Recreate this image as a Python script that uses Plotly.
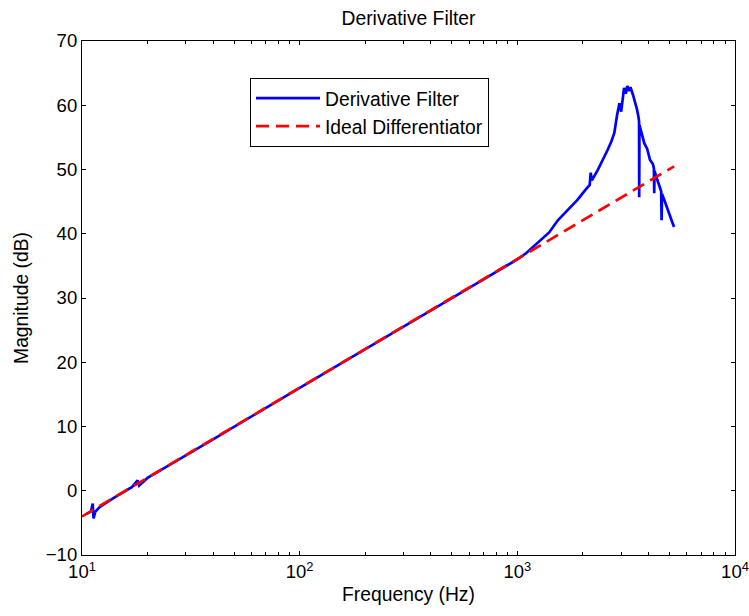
import plotly.graph_objects as go

# Derivative filter magnitude response
filter_freq = [10.5, 11.0, 11.2, 11.3, 11.5, 12, 14, 17, 18, 18.3, 20, 25, 30, 40, 50, 70, 100, 140, 200, 300,
               400, 500, 700, 900, 1000, 1100, 1242, 1400, 1535, 1700, 1893, 2050, 2150, 2173, 2200,
               2340, 2450, 2595, 2700, 2790, 2870, 2945, 3000, 3050, 3092, 3150, 3200, 3260, 3310,
               3400, 3480, 3550, 3600, 3625, 3630, 3640, 3700, 3830, 3950, 4070, 4200, 4240, 4255,
               4270, 4395, 4500, 4580, 4600, 4620, 4730, 4850, 5020, 5150, 5250]
filter_mag = [-3.6, -3.2, -2.0, -4.3, -3.3, -2.6, -1.1, 0.6, 1.6, 0.8, 2.0, 4.0, 5.5, 8.0, 10.0, 12.9, 16.0, 18.9,
              22.0, 25.5, 28.0, 30.0, 32.9, 35.1, 36.0, 37.0, 38.6, 40.2, 42.1, 43.6, 45.3, 46.8, 47.6,
              49.5, 48.3, 49.9, 51.2, 53.0, 54.3, 55.7, 58.4, 60.3, 59.0, 61.5, 62.7, 61.8, 63.0, 62.2,
              62.8, 61.6, 60.5, 59.3, 58.2, 57.5, 45.7, 56.9, 56.0, 54.1, 53.2, 51.5, 50.8, 50.2, 46.3,
              49.8, 48.4, 47.4, 46.6, 42.1, 46.2, 45.3, 44.2, 42.6, 41.8, 41.05]

# Ideal differentiator (straight line on log axis)
ideal_freq = [10, 100, 1000, 5250]
ideal_mag = [-4.0, 16.0, 36.0, 50.5]

x_tick_vals = [10, 100, 1000, 10000]
x_tick_text = ["10<sup>1</sup>", "10<sup>2</sup>", "10<sup>3</sup>", "10<sup>4</sup>"]
x_minor_vals = [m * d for d in (10, 100, 1000) for m in range(2, 10)]
y_tick_vals = [-10, 0, 10, 20, 30, 40, 50, 60, 70]

font_family = "Liberation Sans, Arial, Helvetica, sans-serif"
FS_TICK = 18.5
FS_TITLE = 19.3

fig = go.Figure()
fig.add_trace(go.Scatter(x=filter_freq, y=filter_mag, mode="lines", name="Derivative Filter",
                         line=dict(color="#0000ff", width=2.7)))
fig.add_trace(go.Scatter(x=ideal_freq, y=ideal_mag, mode="lines", name="Ideal Differentiator",
                         line=dict(color="#ff0000", width=2.7, dash="13px,7px")))

axis_common = dict(showline=True, linecolor="black", linewidth=1.2, mirror="ticks", ticks="inside",
                   tickcolor="black", ticklen=4, tickwidth=1.2, showgrid=False, zeroline=False,
                   automargin=False, ticklabeloverflow="allow",
                   tickfont=dict(size=FS_TICK, color="black", family=font_family))

fig.update_xaxes(type="log", range=[0.99999, 4.00001], tickvals=x_tick_vals, ticktext=x_tick_text,
                 title=dict(text="Frequency (Hz)", font=dict(size=FS_TITLE, color="black", family=font_family),
                            standoff=6),
                 minor=dict(tickvals=x_minor_vals, ticks="inside", ticklen=3, tickcolor="black",
                            showgrid=False),
                 **axis_common)
fig.update_yaxes(range=[-10, 70], tickvals=y_tick_vals,
                 title=dict(text="Magnitude (dB)", font=dict(size=FS_TITLE, color="black", family=font_family),
                            standoff=12),
                 **axis_common)

fig.update_layout(
    width=749, height=616,
    margin=dict(l=82, r=14, t=41, b=61, autoexpand=False),
    paper_bgcolor="white", plot_bgcolor="white",
    title=dict(text="Derivative Filter", x=(82 + 735) / 2 / 749, xanchor="center",
               y=1 - 18 / 616, yanchor="middle",
               font=dict(size=FS_TITLE, color="black", family=font_family)),
    font=dict(family=font_family, color="black"),
    legend=dict(x=(250 - 82) / 653, y=(555 - 78) / 514, xanchor="left", yanchor="top", bgcolor="white",
                bordercolor="black", borderwidth=1, font=dict(size=FS_TITLE, color="black", family=font_family),
                tracegroupgap=0, itemwidth=64),
    showlegend=True,
)

fig.write_html("out.html", config={"displayModeBar": False},
               post_script="document.body.style.margin='0';document.body.style.overflow='hidden';")
